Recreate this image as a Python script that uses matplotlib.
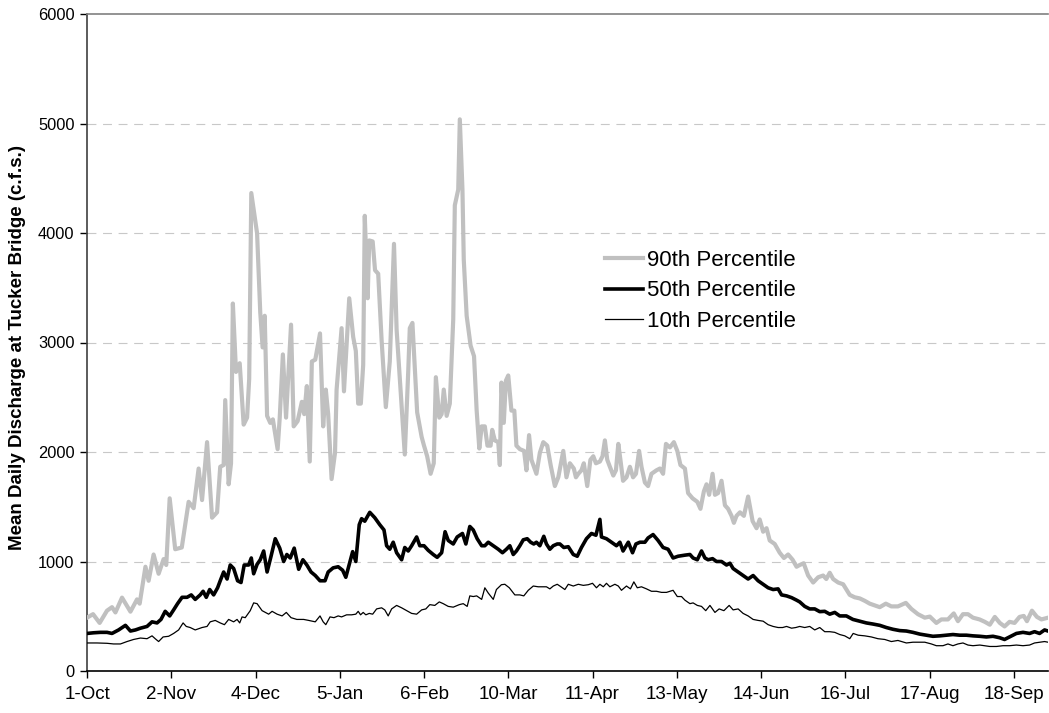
import matplotlib
matplotlib.use("Agg")
import matplotlib.pyplot as plt

plt.rcParams['font.family'] = ['Liberation Sans', 'DejaVu Sans']

# Day of water year (0 = 1-Oct) and discharge values
tick_days = [0, 32, 64, 96, 128, 160, 192, 224, 256, 288, 320, 352]
tick_labels = ["1-Oct", "2-Nov", "4-Dec", "5-Jan", "6-Feb", "10-Mar", "11-Apr",
               "13-May", "14-Jun", "16-Jul", "17-Aug", "18-Sep"]

p90_days = [0.0, 2.3, 4.8, 7.6, 9.5, 10.8, 13.3, 16.5, 19.0, 20.0, 22.2, 23.4, 25.3, 27.2, 29.1, 30.1,
            31.4, 33.5, 36.0, 37.0, 38.6, 40.5, 42.4, 43.7, 45.6, 47.5, 49.4, 50.6, 51.9, 52.5, 53.8,
            54.7, 55.4, 56.6, 58.0, 59.5, 60.8, 61.6, 62.4, 64.6, 65.8, 66.7, 67.5, 68.4, 69.6, 70.6,
            72.4, 73.2, 74.4, 75.6, 77.5, 78.5, 80.0, 81.6, 82.5, 83.5, 84.6, 85.4, 86.7,
            88.5, 89.7, 90.7, 91.6, 92.9, 94.2, 94.8, 96.7, 97.6, 99.6, 101.1, 102.1, 103.0, 104.0,
            104.9, 105.5, 106.6, 107.2, 108.5, 109.4, 110.6, 111.9, 113.5, 115.0, 116.6, 117.6, 119.5,
            120.7, 122.0, 122.6, 123.6, 125.4, 127.1, 128.0, 129.2, 130.5, 131.7, 132.5, 133.8, 134.7,
            135.5, 136.6, 137.8, 139.1, 139.7, 141.0, 141.6, 142.6, 143.1, 144.2, 145.7, 147.0, 148.0,
            149.0, 149.9, 151.1, 152.1, 153.3, 153.9, 154.9, 156.2, 156.8, 157.4, 158.3, 159.1, 160.0,
            161.2, 162.3, 163.1, 164.4, 166.0, 166.9, 167.9, 168.8, 170.7, 172.0, 173.3, 174.8, 176.1,
            177.7, 179.0,
            180.9, 182.1, 183.4, 184.9, 185.7, 186.6, 187.8, 188.7, 190.0, 191.2, 192.3, 193.3, 194.8,
            195.8, 196.7, 197.6, 198.6, 199.9, 200.9, 201.8, 202.6, 203.6, 204.9, 206.2, 207.4, 208.5,
            209.7, 210.6, 211.9, 213.1, 214.4, 216.3, 217.6, 218.8, 219.9, 221.4, 222.9, 224.2, 225.4,
            227.1, 228.3, 230.0, 231.8, 233.0, 234.3, 235.3, 236.3, 237.6, 238.5, 239.7, 241.0, 242.3,
            243.5, 244.8, 245.7, 246.7, 248.0, 249.5, 251.1, 252.8, 254.3, 255.5, 256.8, 258.1, 259.3,
            261.2, 263.1, 264.7, 266.3, 268.0, 269.5, 270.7,
            272.2, 273.9, 275.8, 277.7, 279.6, 280.8, 282.1, 283.4, 285.3, 287.2, 289.7, 291.6, 293.5,
            295.4, 297.3, 299.2, 301.1, 303.4, 305.5, 308.0, 311.0, 313.1, 315.6, 318.2, 320.1, 322.6,
            324.5, 327.0, 329.2, 330.8, 332.7, 334.6, 336.5, 339.0, 341.0, 342.9, 344.8, 346.7, 348.5,
            350.4, 352.3, 354.2, 355.8, 357.0, 358.9, 360.8, 362.5, 365.0]
p90_vals = [487, 519, 439, 551, 583, 535, 670, 542, 654, 615, 952, 824, 1064, 888, 1022, 968,
            1577, 1112, 1128, 1288, 1545, 1487, 1849, 1561, 2090, 1400, 1449, 1865, 1881, 2474, 1705,
            1897, 3356, 2731, 2811, 2250, 2314, 2667, 4365, 3997, 3276, 2955, 3244, 2330, 2266, 2298,
            2026, 2314, 2891, 2314, 3163, 2234, 2282, 2458, 2346, 2602, 1913, 2827, 2843,
            3083, 2234, 2570, 2346, 1753, 1993, 2570, 3131, 2554, 3404, 3051, 2923, 2442, 2442,
            2795, 4157, 3404, 3932, 3923, 3660, 3628, 3019, 2410, 2827, 3901, 3115, 2410,
            1977, 2731, 3131, 3179, 2362, 2138, 2058, 1961, 1801, 1897, 2683, 2314, 2346,
            2570, 2330, 2442, 3211, 4253, 4397, 5038, 4397, 3756, 3243, 2971, 2875, 2378,
            2032, 2234, 2234, 2058, 2058, 2202, 2106, 2090, 1881, 2634, 2266, 2651, 2699,
            2378, 2378, 2058, 2026, 2010, 1833, 2154, 1929, 1801, 1993, 2090, 2058, 1881,
            1689, 1769,
            2010, 1769, 1897, 1849, 1769, 1801, 1833, 1897, 1689, 1929, 1961, 1897, 1913,
            1961, 2106, 1929, 1865, 1785, 1833, 2074, 1929, 1737, 1769, 1865, 1769, 1801,
            2010, 1865, 1721, 1689, 1801, 1833, 1849, 1801, 2074, 2042, 2090, 2010, 1881,
            1849, 1625, 1577, 1545, 1481, 1641, 1705, 1609, 1801, 1609, 1625, 1737, 1513,
            1481, 1417, 1353, 1417, 1449, 1417, 1593, 1369, 1304, 1384, 1272, 1304, 1192,
            1160, 1080, 1032, 1064, 1016, 952, 968,
            984, 872, 808, 856, 872, 840, 897, 840, 808, 792, 695, 673, 663,
            641, 615, 599, 583, 615, 590, 590, 622, 567, 519, 487, 497, 439,
            471, 471, 526, 455, 519, 519, 487, 471, 449, 423, 494, 439, 407,
            449, 439, 494, 503, 455, 551, 494, 471, 487]

p50_days = [0.0, 2.5, 5.1, 7.6, 9.5, 12.0, 14.6, 16.5, 18.4, 20.3, 22.8, 24.7, 26.6, 28.1, 29.7, 31.4,
            32.9, 34.4, 36.1, 38.0, 39.6, 41.1, 43.0, 44.1, 45.3, 46.6, 48.1, 49.6, 50.6, 51.9, 53.2,
            54.4, 55.7, 57.2, 58.5, 59.7, 61.4, 62.4, 63.3, 64.6, 65.8, 67.1, 68.4, 69.9, 71.5, 73.2,
            74.7, 75.9, 77.2, 78.7, 80.4, 82.0, 83.5, 85.1, 86.7,
            88.5, 90.4, 91.6, 93.5, 95.4, 97.1, 98.3, 99.9, 100.9, 102.1, 103.4, 104.3, 105.5, 107.4,
            109.3, 111.2, 112.8, 113.8, 115.0, 116.3, 117.6, 119.5, 120.7, 122.0, 123.3, 125.2, 126.4,
            128.0, 129.6, 131.5, 133.0, 134.7, 136.0, 137.2, 139.1, 140.6, 142.6, 143.9, 145.4, 146.7,
            148.2, 149.9, 151.1, 152.4, 154.3, 156.2, 157.8, 159.3, 160.6, 161.9, 163.1, 164.4, 165.7,
            167.2, 168.5, 169.7, 170.7, 172.0, 173.5, 174.5, 175.8, 177.1, 178.6,
            179.6, 181.1, 182.8, 184.7, 186.2, 187.8, 189.7, 191.6, 193.3, 194.8, 195.4, 197.3, 199.2,
            201.1, 202.4, 203.6, 205.6, 207.2, 208.5, 210.0, 211.9, 213.1, 215.0, 216.9, 218.8, 220.7,
            222.6, 224.5, 227.1, 229.0, 230.2, 231.8, 233.4, 234.7, 235.9, 237.6, 239.1, 241.0, 242.9,
            244.2, 245.4, 247.3, 249.2, 251.1, 253.0, 254.9, 256.8, 258.7, 260.6, 262.5, 263.8, 265.7,
            267.6, 269.5,
            270.7, 272.6, 274.5, 276.4, 278.3, 280.2, 282.1, 284.0, 285.9, 288.4, 290.9, 293.5, 296.0,
            298.5, 301.1, 303.6, 306.1, 308.7, 311.2, 313.7, 316.3, 318.8, 321.3, 323.9, 326.4, 328.9,
            331.5, 334.0, 336.5, 339.1, 341.6, 344.1, 346.6, 348.5, 350.4, 353.0, 355.5, 358.0, 359.9,
            361.8, 363.7, 365.0]
p50_vals = [343, 349, 353, 353, 343, 375, 417, 365, 375, 391, 407, 449, 439, 471, 545, 503,
            558, 615, 673, 673, 695, 654, 695, 728, 673, 744, 695, 760, 824, 904, 840,
            968, 936, 824, 808, 968, 968, 1032, 888, 974, 1016, 1096, 904, 1048, 1208, 1122,
            1000, 1064, 1032, 1122, 929, 1016, 968, 904, 872,
            824, 824, 904, 942, 952, 920, 856, 1000, 1090, 1000, 1336, 1391, 1368, 1449,
            1400, 1336, 1288, 1144, 1112, 1176, 1080, 1016, 1128, 1096, 1144, 1224, 1144,
            1144, 1102, 1064, 1038, 1080, 1272, 1192, 1160, 1224, 1256, 1160, 1320, 1288,
            1208, 1144, 1144, 1176, 1144, 1112, 1080, 1112, 1144, 1064, 1096, 1144, 1198,
            1208, 1176, 1160, 1176, 1144, 1230, 1160, 1112, 1144, 1160,
            1160, 1128, 1135, 1064, 1048, 1128, 1208, 1256, 1240, 1385, 1224, 1208, 1176,
            1144, 1176, 1096, 1176, 1080, 1160, 1176, 1176, 1215, 1246, 1192, 1128, 1112,
            1032, 1048, 1058, 1064, 1032, 1016, 1096, 1032, 1016, 1026, 1000, 1000, 968,
            984, 936, 904, 872, 840, 872, 824, 792, 760, 744, 750, 695, 686,
            670, 647,
            631, 590, 567, 567, 542, 545, 519, 535, 503, 503, 471, 455, 439,
            429, 417, 397, 381, 369, 365, 353, 337, 327, 317, 321, 327, 333,
            327, 327, 321, 317, 311, 317, 304, 288, 311, 343, 353, 343, 359,
            343, 375, 365]

p10_days = [0.0, 3.8, 7.6, 10.1, 12.7, 15.2, 17.7, 20.3, 22.8, 24.7, 25.9, 27.2, 28.9, 31.0, 32.9,
            34.8, 36.5, 37.7, 39.2, 41.1, 43.7, 45.6, 46.8, 48.7, 50.6, 52.2, 53.8, 55.7, 57.0, 58.0,
            58.9, 60.1, 62.0, 63.3, 64.6, 66.5, 69.0, 70.3, 72.2, 74.1, 75.7, 77.5, 79.7, 82.3, 84.2,
            86.7,
            88.5, 89.7, 90.7, 92.3, 93.8, 95.4, 96.7, 98.6, 100.5, 102.1, 103.0, 103.9, 104.9, 105.9,
            107.2, 108.5, 110.0, 111.9, 113.1, 114.4, 115.7, 117.6, 119.5, 121.4, 123.3, 125.2, 127.1,
            128.7, 130.2, 132.1, 133.8, 135.3, 137.2, 139.1, 141.4, 142.9, 144.4, 145.4, 146.7, 148.0,
            149.9, 151.1, 152.4, 154.3, 155.5, 157.4, 158.7, 160.4, 162.5, 164.4, 165.9, 167.6, 169.5,
            171.4, 173.0, 174.5, 175.8, 177.1, 178.6,
            179.6, 181.5, 182.8, 184.7, 186.6, 188.5, 190.4, 192.0, 193.5, 194.8, 196.1, 197.3, 198.6,
            200.5, 201.8, 203.0, 204.9, 206.4, 207.7, 209.0, 210.6, 212.5, 214.4, 216.3, 218.2, 220.1,
            221.4, 222.6, 224.2, 225.8, 227.1, 229.0, 230.2, 231.8, 233.4, 235.0, 236.6, 238.5, 240.1,
            241.9, 243.9, 245.4, 247.3, 249.2, 251.1, 253.0, 254.9, 256.8, 258.7, 260.6, 262.5, 264.2,
            265.7, 267.6, 269.2,
            270.7, 272.6, 274.5, 276.4, 278.3, 280.2, 282.1, 284.0, 285.9, 287.8, 289.7, 291.0, 292.9,
            295.4, 297.9, 300.4, 303.0, 305.5, 308.0, 311.2, 313.7, 315.6, 318.2, 320.7, 322.6, 325.1,
            327.0, 328.9, 330.8, 332.7, 334.6, 336.5, 339.1, 341.0, 342.9, 345.4, 347.9, 350.4, 353.0,
            355.5, 358.0, 359.9, 361.8, 363.7, 365.0]
p10_vals = [256, 256, 253, 247, 247, 269, 288, 301, 295, 321, 295, 269, 311, 317, 343,
            375, 439, 407, 397, 375, 397, 407, 449, 462, 439, 423, 471, 449, 471, 439,
            494, 487, 551, 622, 615, 551, 519, 545, 519, 503, 535, 487, 471, 471, 462,
            449,
            503, 449, 423, 494, 487, 503, 494, 513, 513, 519, 545, 513, 535, 513,
            526, 519, 567, 577, 558, 503, 567, 599, 577, 551, 526, 519, 558,
            567, 606, 599, 631, 615, 590, 583, 606, 615, 590, 686, 680, 686,
            654, 760, 712, 654, 744, 788, 792, 760, 695, 695, 686, 737, 776,
            769, 769, 769, 750, 776, 792,
            776, 744, 792, 776, 792, 782, 788, 801, 760, 792, 769, 801, 769,
            792, 776, 737, 776, 750, 814, 760, 769, 750, 728, 728, 718, 718,
            728, 737, 680, 680, 647, 615, 622, 599, 590, 551, 599, 535, 567,
            551, 599, 558, 567, 526, 503, 471, 462, 455, 423, 407, 397, 397,
            407, 391, 397,
            407, 397, 407, 375, 397, 359, 359, 353, 333, 321, 295, 343, 327,
            321, 311, 295, 288, 269, 279, 256, 263, 263, 263, 247, 231, 231,
            247, 231, 247, 256, 237, 231, 237, 231, 224, 224, 231, 231, 237,
            231, 237, 256, 263, 269, 263]

W, H = 1049, 713
fig = plt.figure(figsize=(W / 100, H / 100), dpi=100)
ax = fig.add_axes([87 / W, 1 - 671 / H, 961 / W, 657 / H])

ax.plot(p90_days, p90_vals, color='#c0c0c0', lw=3.0, label='90th Percentile', zorder=3)
ax.plot(p50_days, p50_vals, color='black', lw=2.6, label='50th Percentile', zorder=4)
ax.plot(p10_days, p10_vals, color='black', lw=0.9, label='10th Percentile', zorder=5)

ax.set_xlim(0, 365)
ax.set_ylim(0, 6000)
ax.set_xticks(tick_days)
ax.set_xticklabels(tick_labels)
ax.set_yticks([0, 1000, 2000, 3000, 4000, 5000, 6000])
ax.tick_params(axis='both', direction='out', length=5, width=1, color='black',
               labelcolor='black')
ax.tick_params(axis='x', labelsize=13.5, pad=6)
ax.tick_params(axis='y', labelsize=11.8, pad=4)

for y in [1000, 2000, 3000, 4000, 5000]:
    ax.axhline(y, color='#c8c8c8', lw=0.8, ls=(0, (8, 6)), zorder=1)

ax.spines['right'].set_visible(False)
ax.spines['top'].set_color('#808080')
ax.spines['top'].set_linewidth(1.2)
ax.spines['left'].set_color('#404040')
ax.spines['left'].set_linewidth(1.2)
ax.spines['bottom'].set_color('black')
ax.spines['bottom'].set_linewidth(1.2)

fig.text(18 / W, 1 - 348 / H, 'Mean Daily Discharge at Tucker Bridge (c.f.s.)',
         rotation=90, ha='center', va='center', fontsize=13.5, fontweight='bold')

leg = ax.legend(loc='center left', bbox_to_anchor=((605 - 87) / 961, (671 - 291) / 657),
                frameon=False, fontsize=16, handlelength=1.7, handletextpad=0.2,
                labelspacing=0.42, borderaxespad=0, borderpad=0)

fig.savefig('out.png', dpi=100)
